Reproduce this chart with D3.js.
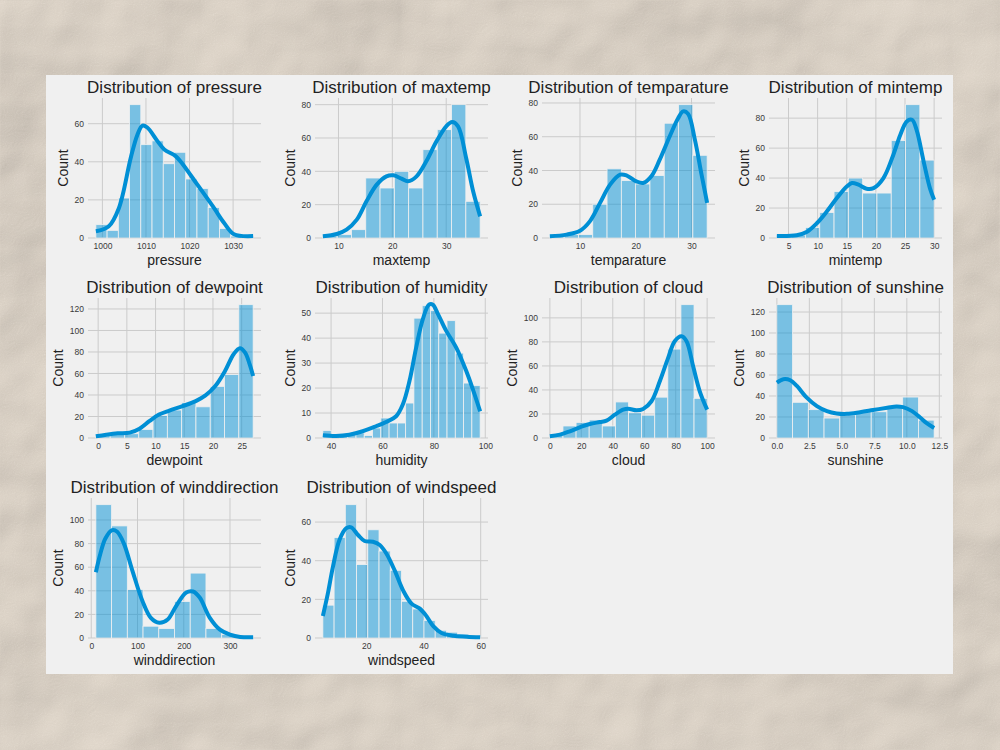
<!DOCTYPE html>
<html>
<head>
<meta charset="utf-8">
<script src="https://cdn.jsdelivr.net/npm/d3@7"></script>
<style>
  html, body { margin: 0; padding: 0; background: #cdc5ba; }
  svg { display: block; }
  text { font-family: "Liberation Sans", Arial, sans-serif; }
</style>
</head>
<body>
<div id="chart"></div>
<script>
// Histogram data: [min, max] of the binned range, counts per equal-width bin,
// and KDE curve points as [x, count]
const pressureRange = [998.5, 1034.6];
const pressureCounts = [7, 4, 21, 70, 49, 51, 39, 45, 31, 26, 16, 5, 1, 1];
const pressureKde = [[998.5, 3.5], [1001.4, 6], [1003.8, 15.8], [1006.5, 42], [1008, 54], [1009.2, 59], [1010.3, 58],
    [1012.6, 51], [1014.2, 46.5], [1016.8, 43], [1018, 40], [1021.8, 28], [1025.6, 15.8], [1027.9, 8], [1030.2, 2], [1034.6, 1]];
const pressureXTicks = [1000, 1010, 1020, 1030];
const pressureYTicks = [0, 20, 40, 60];

const maxtempRange = [7.1, 36.3];
const maxtempCounts = [1, 2, 5, 36, 30, 40, 30, 53, 65, 80, 22];
const maxtempKde = [[7.1, 1], [9.7, 2.4], [11.5, 5], [13.4, 11], [15.2, 22], [17.1, 32], [18.9, 37], [20.2, 37.6], [21.7, 35.6],
    [22.9, 34], [24.5, 37], [26.3, 46], [28.2, 58], [30, 67], [31.1, 69.6], [32.2, 67], [33.7, 48], [35, 28], [36.3, 13]];
const maxtempXTicks = [10, 20, 30];
const maxtempYTicks = [0, 20, 40, 60, 80];

const temparatureRange = [4.6, 32.8];
const temparatureCounts = [1, 2, 2, 20, 41, 34, 32, 37, 68, 79, 49];
const temparatureKde = [[4.6, 1], [7.6, 2], [10, 4.3], [11.8, 10], [13.6, 20.8], [15.4, 31.6], [17.2, 37.5], [18.4, 37], [20.1, 33.6],
    [21.3, 32.6], [22.8, 36.6], [24.3, 46.4], [26.1, 60.3], [27.6, 71], [28.5, 75], [29.4, 73.5], [30.6, 58.3], [31.8, 37.5], [32.8, 20.8]];
const temparatureXTicks = [10, 20, 30];
const temparatureYTicks = [0, 20, 40, 60, 80];

const mintempRange = [3.0, 30.0];
const mintempCounts = [2, 2, 7, 17, 31, 40, 30, 30, 65, 89, 52];
const mintempKde = [[3, 1.3], [6.4, 1.8], [8.1, 4], [9.9, 10], [11.6, 17.8], [13.3, 26.7], [15, 34.4], [15.9, 36.7], [17, 35.6],
    [18.4, 32.9], [19.6, 33.3], [21.3, 40], [23, 55.6], [24.2, 68.9], [25.3, 77.8], [26.2, 78.9], [27, 72], [28.2, 51], [29.3, 33], [30, 25.6]];
const mintempXTicks = [5, 10, 15, 20, 25, 30];
const mintempYTicks = [0, 20, 40, 60, 80];

const dewpointRange = [-0.4, 27.0];
const dewpointCounts = [3, 4, 4, 8, 21, 26, 33, 29, 48, 59, 124];
const dewpointKde = [[-0.4, 1.6], [1.4, 3.1], [3.4, 4.4], [5.5, 5], [7.2, 8.7], [8.9, 15.6], [10.6, 21.8], [12.4, 25.5], [14.7, 29.6],
    [17, 34.3], [18.7, 39.6], [20.4, 48.3], [22.1, 62.3], [23.6, 77.9], [24.7, 83.5], [25.6, 79.4], [26.4, 68.5], [27, 57.6]];
const dewpointXTicks = [0, 5, 10, 15, 20, 25];
const dewpointYTicks = [0, 20, 40, 60, 80, 100, 120];

const humidityRange = [36.8, 98.0];
const humidityCounts = [3, 0, 1, 2, 2, 1, 4, 8, 6, 6, 14, 48, 53, 51, 42, 47, 34, 22, 21];
const humidityKde = [[36.8, 1.1], [41.9, 0.8], [47.1, 1.3], [52.3, 2.7], [57.5, 4.7], [61.4, 6.4], [65.3, 8.7], [67.9, 13.4],
    [70.5, 22.8], [73.1, 36.2], [75.7, 47.6], [78.1, 53.4], [79.6, 53.4], [81.6, 49.6], [84.8, 42.9], [88.7, 36.2], [92.6, 26.8],
    [95.2, 19.4], [98, 10.7]];
const humidityXTicks = [40, 60, 80, 100];
const humidityYTicks = [0, 10, 20, 30, 40, 50];

const cloudRange = [0, 100];
const cloudCounts = [2, 10, 13, 15, 10, 30, 21, 19, 34, 74, 111, 33];
const cloudKde = [[0, 1.4], [6.4, 2.8], [12.7, 5.6], [19.1, 8.9], [25.4, 11.7], [31.8, 13.3], [36, 14.4], [41.3, 19.4], [46.6, 23.6],
    [49.8, 24.4], [55.1, 23.1], [59.3, 24.2], [64.6, 30.6], [69.9, 47.2], [75.2, 66.7], [79.4, 80.6], [83.7, 84.7], [86.9, 80.6],
    [91.1, 59.7], [95.3, 38.9], [100, 23.6]];
const cloudXTicks = [0, 20, 40, 60, 80, 100];
const cloudYTicks = [0, 20, 40, 60, 80, 100];

const sunshineRange = [0, 12.1];
const sunshineCounts = [127, 34, 27, 19, 22, 25, 25, 31, 39, 17];
const sunshineKde = [[0, 52.8], [0.5, 56], [1.03, 55], [1.54, 49.6], [2.3, 38.4], [3.08, 30.4], [3.85, 25.6], [4.6, 23.4], [5.4, 23],
    [6.4, 24.6], [7.4, 26.6], [8.5, 28.8], [9.2, 30.1], [9.7, 29.4], [10.4, 25.6], [11, 19.8], [11.5, 14.4], [12.1, 9.6]];
const sunshineXTicks = [0, 2.5, 5, 7.5, 10, 12.5];
const sunshineYTicks = [0, 20, 40, 60, 80, 100, 120];

const winddirectionRange = [10, 350];
const winddirectionCounts = [113, 95, 41, 10, 8, 31, 55, 8, 3, 2];
const winddirectionKde = [[10, 55.7], [19.7, 71.4], [30.6, 84.3], [45.2, 91.4], [56.1, 90], [70.6, 80], [88.9, 57.1], [110.7, 31.4],
    [128.9, 17.1], [147.1, 12.9], [165.3, 15.7], [183.5, 27.1], [205.4, 38.6], [220, 39.4], [234.5, 34.3], [256.4, 17.1],
    [278.2, 7.1], [300, 2.9], [321.9, 0.9], [350, 0.6]];
const winddirectionXTicks = [0, 100, 200, 300];
const winddirectionYTicks = [0, 20, 40, 60, 80, 100];

const windspeedRange = [4.8, 59.8];
const windspeedCounts = [17, 52, 69, 38, 56, 45, 35, 19, 15, 9, 4, 3, 2, 1];
const windspeedKde = [[4.8, 11.4], [6.5, 22.7], [8.3, 36.7], [10.6, 50.7], [13, 56.8], [14.7, 57.3], [17.1, 53.3], [19.4, 50.2],
    [22.3, 49.8], [24.7, 48.1], [27, 43.7], [29.9, 35], [32.9, 24.5], [35.8, 17.8], [38.7, 15.2], [41, 11.4], [43.4, 6.1],
    [46.3, 2.6], [50.4, 1.2], [55.1, 0.7], [59.8, 0.35]];
const windspeedXTicks = [20, 40, 60];
const windspeedYTicks = [0, 20, 40, 60];

const panels = [
    { name: "pressure", range: pressureRange, counts: pressureCounts, kde: pressureKde, xTicks: pressureXTicks, yTicks: pressureYTicks },
    { name: "maxtemp", range: maxtempRange, counts: maxtempCounts, kde: maxtempKde, xTicks: maxtempXTicks, yTicks: maxtempYTicks },
    { name: "temparature", range: temparatureRange, counts: temparatureCounts, kde: temparatureKde, xTicks: temparatureXTicks, yTicks: temparatureYTicks },
    { name: "mintemp", range: mintempRange, counts: mintempCounts, kde: mintempKde, xTicks: mintempXTicks, yTicks: mintempYTicks },
    { name: "dewpoint", range: dewpointRange, counts: dewpointCounts, kde: dewpointKde, xTicks: dewpointXTicks, yTicks: dewpointYTicks },
    { name: "humidity", range: humidityRange, counts: humidityCounts, kde: humidityKde, xTicks: humidityXTicks, yTicks: humidityYTicks },
    { name: "cloud", range: cloudRange, counts: cloudCounts, kde: cloudKde, xTicks: cloudXTicks, yTicks: cloudYTicks },
    { name: "sunshine", range: sunshineRange, counts: sunshineCounts, kde: sunshineKde, xTicks: sunshineXTicks, yTicks: sunshineYTicks, fmt: ".1f" },
    { name: "winddirection", range: winddirectionRange, counts: winddirectionCounts, kde: winddirectionKde, xTicks: winddirectionXTicks, yTicks: winddirectionYTicks },
    { name: "windspeed", range: windspeedRange, counts: windspeedCounts, kde: windspeedKde, xTicks: windspeedXTicks, yTicks: windspeedYTicks }
];

const config = {
    "bar-color": "#008fd5",
    "line-color": "#008fd5",
    "grid-color": "#cbcbcb",
    "panel-color": "#f0f0f0",
    "text-color": "#222",
    "tick-color": "#3a3a3a"
};

// layout of the figure (3 rows x 4 columns of axes)
const axLeft = 88, axTop = 98, colStep = 227, rowStep = 200;
const W = 173, H = 140;

const svg = d3.select("#chart")
    .append("svg")
    .attr("width", 1000)
    .attr("height", 750);

// crumpled paper backdrop
const defs = svg.append("defs");
const paper = defs.append("filter")
    .attr("id", "paper")
    .attr("x", 0).attr("y", 0).attr("width", "100%").attr("height", "100%");
paper.append("feTurbulence")
    .attr("type", "fractalNoise")
    .attr("baseFrequency", "0.005")
    .attr("numOctaves", 4)
    .attr("seed", 11)
    .attr("result", "noise");
paper.append("feDiffuseLighting")
    .attr("in", "noise")
    .attr("lighting-color", "#eae1d5")
    .attr("surfaceScale", 12)
    .attr("diffuseConstant", 1)
    .attr("result", "light")
    .append("feDistantLight")
    .attr("azimuth", 235)
    .attr("elevation", 60);
paper.append("feTurbulence")
    .attr("type", "fractalNoise")
    .attr("baseFrequency", "0.9")
    .attr("numOctaves", 1)
    .attr("seed", 2)
    .attr("result", "grainRaw");
paper.append("feColorMatrix")
    .attr("in", "grainRaw")
    .attr("type", "saturate")
    .attr("values", 0)
    .attr("result", "grain");
paper.append("feComposite")
    .attr("in", "light")
    .attr("in2", "grain")
    .attr("operator", "arithmetic")
    .attr("k1", 0).attr("k2", 1).attr("k3", 0.14).attr("k4", -0.07);

svg.append("rect")
    .attr("width", 1000)
    .attr("height", 750)
    .attr("fill", "#cdc5ba")
    .attr("filter", "url(#paper)");

svg.append("rect")
    .attr("x", 46)
    .attr("y", 75)
    .attr("width", 907)
    .attr("height", 599)
    .attr("fill", config["panel-color"]);

panels.forEach((p, i) => {
    const col = i % 4, row = Math.floor(i / 4);
    const g = svg.append("g")
        .attr("transform", "translate(" + (axLeft + col * colStep) + "," + (axTop + row * rowStep) + ")");

    const lo = p.range[0], hi = p.range[1];
    const pad = (hi - lo) * 0.05;
    const x = d3.scaleLinear().domain([lo - pad, hi + pad]).range([0, W]);
    const yMax = Math.max(d3.max(p.counts), d3.max(p.kde, d => d[1])) * 1.05;
    const y = d3.scaleLinear().domain([0, yMax]).range([H, 0]);

    // grid
    g.append("g")
        .selectAll("line")
        .data(p.xTicks)
        .enter()
        .append("line")
        .attr("x1", d => x(d)).attr("x2", d => x(d))
        .attr("y1", 0).attr("y2", H)
        .attr("stroke", config["grid-color"])
        .attr("stroke-width", 1);
    g.append("g")
        .selectAll("line")
        .data(p.yTicks)
        .enter()
        .append("line")
        .attr("x1", 0).attr("x2", W)
        .attr("y1", d => y(d)).attr("y2", d => y(d))
        .attr("stroke", config["grid-color"])
        .attr("stroke-width", 1);

    // bars
    const n = p.counts.length;
    const edges = d3.range(n + 1).map(k => lo + k * (hi - lo) / n);
    g.append("g")
        .selectAll("rect")
        .data(p.counts)
        .enter()
        .append("rect")
        .attr("x", (d, k) => x(edges[k]))
        .attr("y", d => y(d))
        .attr("width", (d, k) => x(edges[k + 1]) - x(edges[k]))
        .attr("height", d => H - y(d))
        .attr("fill", config["bar-color"])
        .attr("fill-opacity", 0.5)
        .attr("stroke", config["panel-color"])
        .attr("stroke-width", 0.8);

    // kde
    const line = d3.line()
        .x(d => x(d[0]))
        .y(d => y(d[1]))
        .curve(d3.curveCatmullRom.alpha(0.5));
    g.append("path")
        .datum(p.kde)
        .attr("d", line)
        .attr("fill", "none")
        .attr("stroke", config["line-color"])
        .attr("stroke-width", 4);

    // axes (labels only)
    const fmt = p.fmt ? d3.format(p.fmt) : d3.format("d");
    const xAxis = g.append("g")
        .attr("transform", "translate(0," + H + ")")
        .call(d3.axisBottom(x).tickValues(p.xTicks).tickSize(0).tickPadding(5).tickFormat(fmt));
    const yAxis = g.append("g")
        .call(d3.axisLeft(y).tickValues(p.yTicks).tickSize(0).tickPadding(4).tickFormat(d3.format("d")));
    [xAxis, yAxis].forEach(a => {
        a.select(".domain").remove();
        a.selectAll("text")
            .attr("fill", config["tick-color"])
            .style("font-size", "8.5px")
            .style("font-family", "'Liberation Sans', Arial, sans-serif");
    });

    let maxW = 0;
    yAxis.selectAll("text").each(function () {
        maxW = Math.max(maxW, this.getComputedTextLength());
    });

    g.append("text")
        .attr("x", W / 2)
        .attr("y", -5)
        .attr("text-anchor", "middle")
        .attr("fill", config["text-color"])
        .style("font-size", "17px")
        .text("Distribution of " + p.name);

    g.append("text")
        .attr("x", W / 2)
        .attr("y", H + 27)
        .attr("text-anchor", "middle")
        .attr("fill", config["text-color"])
        .style("font-size", "14px")
        .text(p.name);

    g.append("text")
        .attr("transform", "translate(" + (-4 - maxW - 7) + "," + (H / 2) + ")rotate(-90)")
        .attr("text-anchor", "middle")
        .attr("fill", config["text-color"])
        .style("font-size", "14px")
        .text("Count");
});
</script>
</body>
</html>
